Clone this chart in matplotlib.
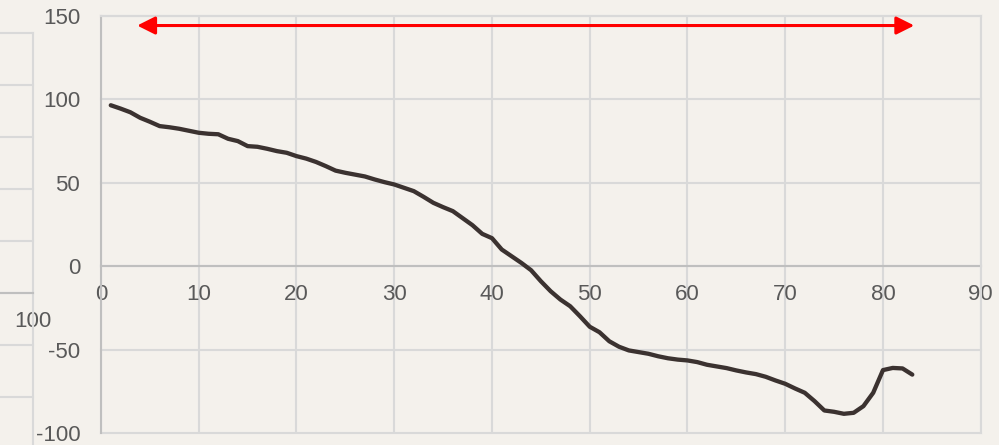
import matplotlib
matplotlib.use("Agg")
import matplotlib.pyplot as plt

# 数据
x = list(range(1, 84))
y = [96.5, 94.5, 92.3, 89.0, 86.6, 84.0, 83.3, 82.4, 81.2, 80.0,
     79.4, 79.1, 76.4, 75.0, 72.0, 71.6, 70.4, 69.0, 68.0, 66.0,
     64.5, 62.5, 60.0, 57.3, 56.0, 54.9, 53.8, 52.0, 50.4, 49.0,
     47.0, 45.0, 41.6, 38.0, 35.4, 33.0, 28.8, 24.6, 19.4, 16.8,
     10.0, 6.0, 2.0, -2.4, -9.0, -15.0, -20.0, -24.0, -30.0, -36.3,
     -39.6, -45.0, -48.3, -50.5, -51.5, -52.5, -54.0, -55.2, -56.0, -56.5,
     -57.5, -59.1, -60.1, -61.1, -62.5, -63.7, -64.7, -66.3, -68.5, -70.5,
     -73.3, -75.9, -80.9, -86.5, -87.3, -88.5, -87.9, -83.9, -75.9, -62.3,
     -61.0, -61.3, -65.0]
xticks = list(range(0, 100, 10))
yticks = [-100, -50, 0, 50, 100, 150]

bg = '#f4f1ec'
grid_c = '#d9d9d9'
axis_c = '#bfbfbf'
txt_c = '#595959'
fs = 16

plt.rcParams['font.family'] = ['Liberation Sans', 'DejaVu Sans']
plt.rcParams['axes.unicode_minus'] = False

fig = plt.figure(figsize=(9.99, 4.45), dpi=100, facecolor=bg)

# 左边被截掉的另一张图
ax0 = fig.add_axes([-0.5, -0.009, 0.533, 0.935], facecolor=bg)
ax0.set_xlim(0, 100)
ax0.set_ylim(-3, 5)
ax0.set_yticks(range(-3, 6))
ax0.set_yticklabels([])
ax0.set_xticks([100])
ax0.set_xticklabels(['100'])
ax0.grid(axis='y', color=grid_c, linewidth=1.5)
for ln in ax0.get_ygridlines():
    ln.set_clip_on(False)
ax0.spines['bottom'].set_position(('data', 0))
ax0.spines['bottom'].set_color(axis_c)
ax0.spines['bottom'].set_linewidth(1.5)
ax0.spines['right'].set_color(grid_c)
ax0.spines['right'].set_linewidth(1.5)
ax0.spines['top'].set_visible(False)
ax0.spines['left'].set_visible(False)
ax0.tick_params(length=0, labelsize=fs, labelcolor=txt_c, pad=13)

# 主图
ax = fig.add_axes([0.1011, 0.027, 0.8806, 0.937], facecolor=bg)
ax.plot(x, y, color='#3b3230', linewidth=3.1, solid_capstyle='round', zorder=3)
ax.set_xlim(0, 90)
ax.set_ylim(-100, 150)
ax.set_xticks(xticks)
ax.set_yticks(yticks)
ax.grid(color=grid_c, linewidth=1.5)
for ln in ax.get_xgridlines() + ax.get_ygridlines():
    ln.set_clip_on(False)
ax.set_axisbelow(True)
ax.spines['bottom'].set_position(('data', 0))
ax.spines['bottom'].set_color(axis_c)
ax.spines['bottom'].set_linewidth(1.5)
ax.spines['bottom'].set_zorder(2)
ax.spines['left'].set_color(axis_c)
ax.spines['left'].set_linewidth(1.5)
ax.spines['top'].set_color(grid_c)
ax.spines['top'].set_linewidth(1.5)
ax.spines['right'].set_color(grid_c)
ax.spines['right'].set_linewidth(1.5)
ax.tick_params(length=0, labelsize=fs, labelcolor=txt_c)
ax.tick_params(axis='x', pad=13)
ax.tick_params(axis='y', pad=15)

# 红色双向箭头
ax.annotate('', xy=(3.7, 144.3), xytext=(83.2, 144.3),
            arrowprops=dict(arrowstyle='<|-|>', color='red', lw=2.2,
                            mutation_scale=27, shrinkA=0, shrinkB=0))

plt.savefig('out.png', dpi=100, facecolor=bg)
